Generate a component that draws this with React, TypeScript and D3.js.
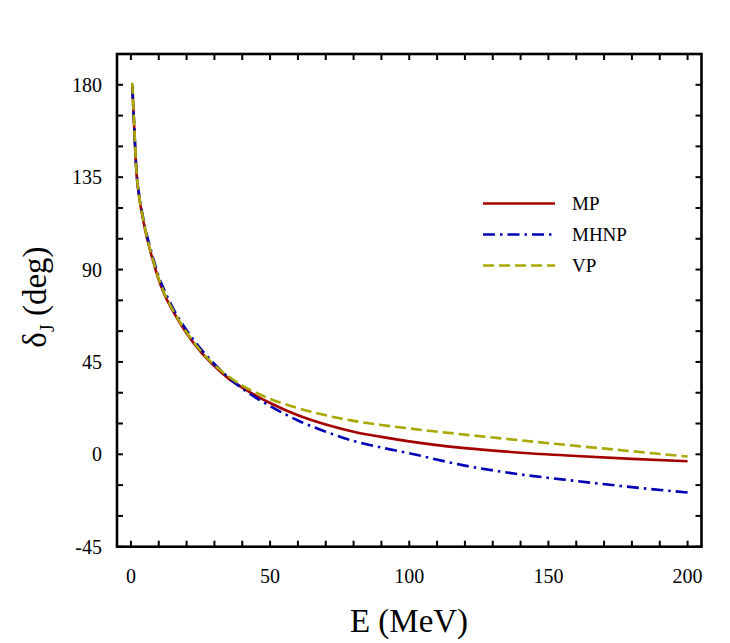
import React, { useEffect, useRef } from 'react';
import * as d3 from 'd3';

// energies (MeV) and phase shifts (deg)
const energies = [0.5, 1, 2, 3, 4, 5, 6, 8, 10, 12, 15, 20, 25, 30, 35, 40, 45, 50, 60, 70, 80, 90, 100, 120, 140, 160, 180, 200];
const mpValues = [180, 165, 137, 125, 117, 110, 104, 94, 85, 78, 70, 59, 50, 43, 37, 32.5, 28.5, 25, 19, 14.5, 11, 8.5, 6.3, 3, 0.8, -0.8, -2.2, -3.4];
const mhnpValues = [179, 165, 138, 126, 118, 111, 105.5, 95.5, 86.5, 80, 71.5, 60.5, 51.5, 44, 37.5, 32, 27.5, 23.5, 16.5, 11, 6.5, 3.3, 0.5, -5.5, -9.8, -13, -16, -18.6];
const vpValues = [181, 166, 138, 125.5, 117.5, 110.5, 104.5, 94.5, 85.5, 78.5, 70.5, 59.5, 50.5, 43.5, 38, 33.5, 30, 27, 22.5, 19, 16.3, 14.3, 12.6, 9.6, 6.8, 4.1, 1.5, -1.1];

const seriesNames = ['MP', 'MHNP', 'VP'];
const xTickLabels = [0, 50, 100, 150, 200];
const yTickLabels = [-45, 0, 45, 90, 135, 180];

const FONT = 'Liberation Serif, DejaVu Serif, serif';

const App: React.FC = () => {
    const svgRef = useRef<SVGSVGElement>(null);

    useEffect(() => {
        if (!svgRef.current) return;
        const svg = d3.select(svgRef.current);
        svg.selectAll('*').remove();

        const left = 117, right = 701.5, top = 54, bottom = 546.7;

        const x = d3.scaleLinear().domain([-5, 205]).range([left, right]);
        const y = d3.scaleLinear().domain([-45, 195]).range([bottom, top]);

        const styles = [
            { color: '#a30000', dash: null },
            { color: '#0000b4', dash: '12,5,2.5,5' },
            { color: '#a8a800', dash: '11,5' },
        ];
        const seriesValues = [mpValues, mhnpValues, vpValues];

        const line = d3.line<[number, number]>()
            .x(d => x(d[0]))
            .y(d => y(d[1]))
            .curve(d3.curveMonotoneX);

        // curves
        seriesValues.forEach((vals, i) => {
            const pts = energies.map((e, k) => [e, vals[k]] as [number, number]);
            const p = svg.append('path')
                .attr('d', line(pts) as string)
                .attr('fill', 'none')
                .attr('stroke', styles[i].color)
                .attr('stroke-width', 2.6);
            if (styles[i].dash) p.attr('stroke-dasharray', styles[i].dash);
        });

        // ticks on all four sides, pointing inward
        const tickLen = 6;
        d3.range(0, 201, 10).forEach(t => {
            svg.append('line')
                .attr('x1', x(t)).attr('x2', x(t))
                .attr('y1', bottom).attr('y2', bottom - tickLen)
                .attr('stroke', 'black').attr('stroke-width', 2);
            svg.append('line')
                .attr('x1', x(t)).attr('x2', x(t))
                .attr('y1', top).attr('y2', top + tickLen)
                .attr('stroke', 'black').attr('stroke-width', 2);
        });
        d3.range(-45, 196, 15).forEach(t => {
            svg.append('line')
                .attr('x1', left).attr('x2', left + tickLen)
                .attr('y1', y(t)).attr('y2', y(t))
                .attr('stroke', 'black').attr('stroke-width', 2);
            svg.append('line')
                .attr('x1', right).attr('x2', right - tickLen)
                .attr('y1', y(t)).attr('y2', y(t))
                .attr('stroke', 'black').attr('stroke-width', 2);
        });

        // frame
        svg.append('rect')
            .attr('x', left).attr('y', top)
            .attr('width', right - left).attr('height', bottom - top)
            .attr('fill', 'none')
            .attr('stroke', 'black')
            .attr('stroke-width', 2.6);

        // tick labels
        xTickLabels.forEach(t => {
            svg.append('text')
                .attr('x', x(t)).attr('y', 583)
                .attr('text-anchor', 'middle')
                .attr('font-family', FONT)
                .attr('font-size', 20)
                .text(t);
        });
        yTickLabels.forEach(t => {
            svg.append('text')
                .attr('x', 102).attr('y', y(t) + 7)
                .attr('text-anchor', 'end')
                .attr('font-family', FONT)
                .attr('font-size', 20)
                .text(t);
        });

        // axis titles
        svg.append('text')
            .attr('x', 409).attr('y', 632)
            .attr('text-anchor', 'middle')
            .attr('font-family', FONT)
            .attr('font-size', 33)
            .text('E (MeV)');

        const yTitle = svg.append('text')
            .attr('transform', 'translate(46,297) rotate(-90)')
            .attr('text-anchor', 'middle')
            .attr('font-family', FONT)
            .attr('font-size', 33);
        yTitle.append('tspan').text('δ');
        yTitle.append('tspan').attr('font-size', 20).attr('dy', 8).text('J');
        yTitle.append('tspan').attr('dy', -8).text(' (deg)');

        // legend
        seriesNames.forEach((name, i) => {
            const ly = 203.5 + i * 31;
            const l = svg.append('line')
                .attr('x1', 483).attr('x2', 555)
                .attr('y1', ly).attr('y2', ly)
                .attr('stroke', styles[i].color)
                .attr('stroke-width', 2.6);
            if (styles[i].dash) l.attr('stroke-dasharray', styles[i].dash);
            svg.append('text')
                .attr('x', 572).attr('y', ly + 6.5)
                .attr('font-family', FONT)
                .attr('font-size', 19)
                .text(name);
        });
    }, []);

    return (
        <svg ref={svgRef} width={730} height={643}
            style={{ position: 'absolute', left: 0, top: 0, background: 'white' }} />
    );
};

export default App;
